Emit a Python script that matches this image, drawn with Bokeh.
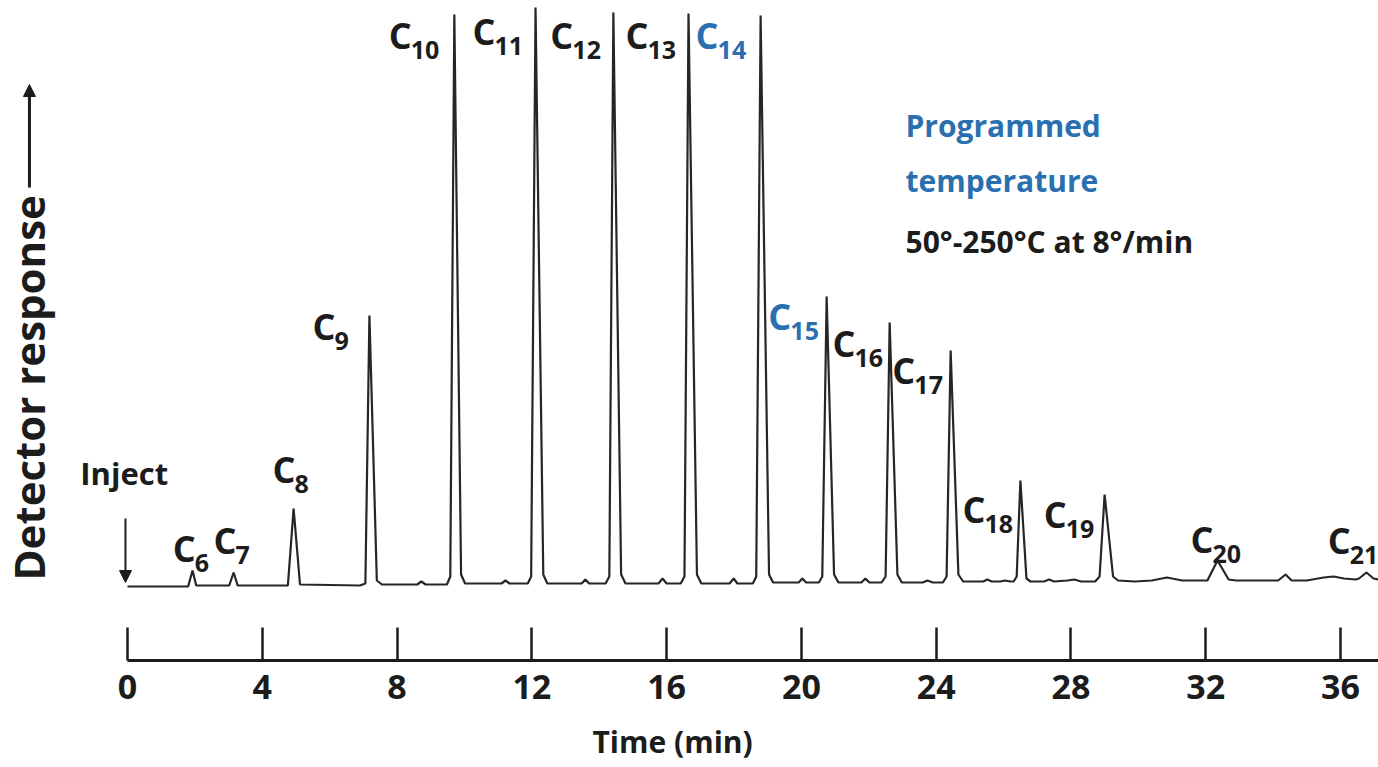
from bokeh.plotting import figure
from bokeh.models import Range1d, FixedTicker, Arrow, NormalHead, Title, ColumnDataSource
from bokeh.core.properties import value
from bokeh.embed import file_html
from bokeh.resources import INLINE

# ---- data (time in min, detector response in arbitrary units) ----
trace_time = [0.00, 1.80, 1.93, 2.04, 3.02, 3.15, 3.27, 4.76, 4.93, 5.12, 6.90, 7.06, 7.18, 7.40, 7.55,
              8.60, 8.72, 8.85, 9.48, 9.58, 9.70, 9.90, 10.02, 11.10, 11.22, 11.34,
              11.88, 11.98, 12.11, 12.34, 12.46, 13.48, 13.59, 13.70,
              14.19, 14.30, 14.42, 14.65, 14.78, 15.76, 15.88, 16.00,
              16.42, 16.53, 16.65, 16.90, 17.03, 17.87, 17.99, 18.10,
              18.56, 18.66, 18.79, 19.04, 19.16, 19.92, 20.03, 20.14,
              20.52, 20.62, 20.75, 20.97, 21.10, 21.78, 21.90, 22.02,
              22.38, 22.50, 22.62, 22.85, 22.98, 23.60, 23.74, 23.90,
              24.20, 24.31, 24.43, 24.66, 24.80, 25.40, 25.52, 25.65, 25.90, 26.05, 26.20,
              26.30, 26.39, 26.50, 26.68, 26.80, 27.20, 27.35, 27.50, 27.90, 28.10, 28.30,
              28.72, 28.85, 29.00, 29.25, 29.40, 29.90, 30.40, 30.85, 31.30, 31.90,
              32.05, 32.35, 32.68, 32.90, 34.15, 34.37, 34.55, 35.00, 35.50, 35.80, 36.10, 36.45,
              36.55, 36.77, 36.98, 37.13]
trace_response = [0, 0, 16, 1, 1, 14, 1, 1, 78, 2, 1, 3, 271, 6, 2,
                  2, 5, 2, 2, 10, 572, 12, 3, 3, 6, 3,
                  3, 10, 579, 12, 3, 3, 7, 3,
                  3, 10, 574, 12, 3, 3, 8, 3,
                  3, 10, 573, 12, 3, 3, 8, 3,
                  3, 10, 571, 12, 4, 4, 8, 4,
                  4, 10, 290, 12, 4, 4, 8, 4,
                  4, 10, 264, 12, 4, 4, 6, 4,
                  4, 10, 236, 12, 5, 5, 7, 5, 5, 6, 5,
                  5, 10, 106, 8, 5, 5, 7, 5, 6, 7, 5,
                  5, 10, 92, 10, 6, 5, 6, 9, 6, 6,
                  6, 26, 7, 6, 6, 12, 6, 6, 9, 10, 8, 7,
                  8, 14, 8, 7]

peak_numbers = ["6", "7", "8", "9", "10", "11", "12", "13", "14", "15", "16", "17", "18", "19", "20", "21"]
peak_label_time = [1.34, 2.55, 4.30, 5.49, 7.75, 10.24, 12.55, 14.78, 16.86, 19.02, 20.92, 22.70,
                   24.78, 27.19, 31.55, 35.62]
peak_label_resp = [38, 46, 117, 260, 551, 555, 551, 551, 551, 270, 243, 216, 77, 72, 47, 46]
peak_label_color = ["#1c1c1c"] * 8 + ["#2a6fb0", "#2a6fb0"] + ["#1c1c1c"] * 6

time_ticks = [0, 4, 8, 12, 16, 20, 24, 28, 32, 36]

BLUE = "#2a6fb0"
INK = "#1c1c1c"
FONT = value("Open Sans")

p = figure(frame_width=1378, frame_height=660, min_border=0,
           x_range=Range1d(-3.769, 37.128), y_range=Range1d(-74, 586),
           output_backend="svg", toolbar_location=None, y_axis_location=None,
           tools="")
p.outline_line_color = None
p.xgrid.visible = False
p.ygrid.visible = False
p.background_fill_color = "white"
p.border_fill_color = "white"

# chromatogram trace
p.line(trace_time, trace_response, line_color="#262626", line_width=2.2)

# peak labels: C with subscript carbon number
src = ColumnDataSource(dict(x=peak_label_time, y=peak_label_resp, n=peak_numbers,
                            c=["C"] * len(peak_numbers), col=peak_label_color))
p.text(x="x", y="y", text="c", source=src, text_color="col", text_font=FONT,
       text_font_style="bold", text_font_size="36px", text_align="left", text_baseline="middle")
p.text(x="x", y="y", text="n", source=src, text_color="col", text_font=FONT,
       text_font_style="bold", text_font_size="25px", text_align="left", text_baseline="middle",
       x_offset=22, y_offset=14)

# inject marker
p.text(x=[-1.40], y=[114], text=["Inject"], text_color=INK, text_font=FONT, text_font_style="bold",
       text_font_size="31px", text_align="left", text_baseline="middle")
p.add_layout(Arrow(end=NormalHead(size=12, fill_color=INK, line_color=INK),
                   x_start=-0.06, y_start=68, x_end=-0.06, y_end=4, line_color=INK, line_width=2))

# vertical response label with arrow
p.text(x=[-2.94], y=[6], text=["Detector response"], angle=1.5708, text_color=INK, text_font=FONT,
       text_font_style="bold", text_font_size="42px", text_align="left", text_baseline="middle")
p.add_layout(Arrow(end=NormalHead(size=12, fill_color=INK, line_color=INK),
                   x_start=-2.91, y_start=399, x_end=-2.91, y_end=502, line_color=INK, line_width=3))

# temperature programme note
p.text(x=[23.09, 23.09], y=[461, 406], text=["Programmed", "temperature"], text_color=BLUE,
       text_font=FONT, text_font_style="bold", text_font_size="30px", text_align="left",
       text_baseline="middle")
p.text(x=[23.09], y=[345], text=["50°-250°C at 8°/min"], text_color=INK, text_font=FONT,
       text_font_style="bold", text_font_size="30px", text_align="left", text_baseline="middle")

# time axis
ax = p.xaxis[0]
ax.ticker = FixedTicker(ticks=time_ticks)
ax.bounds = (0, 40)
ax.axis_line_width = 3
ax.axis_line_color = INK
ax.major_tick_in = 33
ax.major_tick_out = 0
ax.major_tick_line_width = 2.5
ax.major_tick_line_color = INK
ax.minor_tick_line_color = None
ax.major_label_standoff = 14
ax.major_label_text_font = "Open Sans"
ax.major_label_text_font_style = "bold"
ax.major_label_text_font_size = "34px"
ax.major_label_text_color = INK

p.add_layout(Title(text="Time (min)", align="left", offset=592, text_font="Open Sans",
                   text_font_style="bold", text_font_size="30px", text_color=INK, standoff=34),
             "below")

open("out.html", "w").write(file_html(p, INLINE))
